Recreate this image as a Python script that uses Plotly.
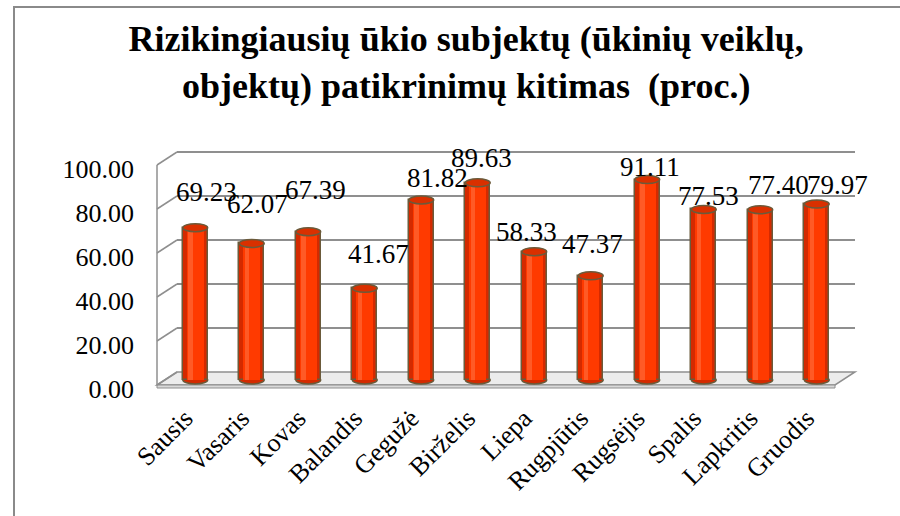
import plotly.graph_objects as go

# ---------------- data ----------------
months = ["Sausis", "Vasaris", "Kovas", "Balandis", "Gegužė", "Birželis",
          "Liepa", "Rugpjūtis", "Rugsėjis", "Spalis", "Lapkritis", "Gruodis"]
values = [69.23, 62.07, 67.39, 41.67, 81.82, 89.63,
          58.33, 47.37, 91.11, 77.53, 77.40, 79.97]
y_ticks = [0, 20, 40, 60, 80, 100]
title_text = "Rizikingiausių ūkio subjektų (ūkinių veiklų,<br>objektų) patikrinimų kitimas  (proc.)"

# ---------------- styling / layout constants ----------------
FONT = "Liberation Serif"
W, H = 900, 516
L, R, T, B = 167, 845, 150, 390           # plot area in pixels
PW, PH = R - L, B - T
BAR_ZERO, BAR_UNIT = 380, 2.2             # bar scale (pixel of 0, pixels per unit)
BACK_SHIFT, FRONT_SHIFT = 8, -5           # back wall / front edge pixel shift vs bar scale
LEFT_FRONT_X, LEFT_BACK_X = 157, 177
RIGHT_FRONT_X, RIGHT_BACK_X = 835, 855
BAR_W = 0.44
# label pixel offsets (dx, dy) from bar top, as placed in the original
LABEL_OFFSETS = [(11, 36), (6, 39), (7, 42), (14, 34), (16, 22), (4, 25),
                 (-8, 20), (2, 32), (3, 13), (5, 13), (18, 25), (21, 19)]

GRID = "#8f8f8f"
EDGE = "#6b5a3a"


def px_x(px):
    return (px - L) / PW


def px_y(py):
    return (B - py) / PH


fig = go.Figure()

# cylinder body (outer darker edge, inner bright core, small highlight)
fig.add_trace(go.Bar(x=months, y=values, width=BAR_W,
                     marker=dict(color="#d42a00", line=dict(color=EDGE, width=1.5)),
                     hoverinfo="skip", showlegend=False))
fig.add_trace(go.Bar(x=months, y=values, width=0.30,
                     marker=dict(color="#ff3a00", line=dict(width=0)),
                     hoverinfo="skip", showlegend=False))
fig.add_trace(go.Bar(x=months, y=values, width=0.08, offset=-0.12,
                     marker=dict(color="#ff5a26", line=dict(width=0)),
                     hoverinfo="skip", showlegend=False))

shapes = []
# outer chart border (extends beyond the image on right/bottom)
shapes.append(dict(type="rect", xref="paper", yref="paper",
                   x0=px_x(14), x1=px_x(930), y0=px_y(7), y1=px_y(560),
                   line=dict(color="#8a8a8a", width=2), fillcolor="rgba(0,0,0,0)",
                   layer="below"))
# floor
fy_front, fy_back = px_y(BAR_ZERO - FRONT_SHIFT), px_y(BAR_ZERO - BACK_SHIFT)
shapes.append(dict(type="path", xref="paper", yref="paper",
                   path=(f"M {px_x(LEFT_FRONT_X)},{fy_front} L {px_x(RIGHT_FRONT_X)},{fy_front} "
                         f"L {px_x(RIGHT_BACK_X)},{fy_back} L {px_x(LEFT_BACK_X)},{fy_back} Z"),
                   fillcolor="#ececec", line=dict(color=GRID, width=1.5), layer="below"))
# front floor edge thickness
shapes.append(dict(type="rect", xref="paper", yref="paper",
                   x0=px_x(LEFT_FRONT_X), x1=px_x(RIGHT_FRONT_X),
                   y0=px_y(BAR_ZERO - FRONT_SHIFT + 3), y1=fy_front,
                   fillcolor="#d9d9d9", line=dict(color=GRID, width=1), layer="below"))
# left wall front edge
shapes.append(dict(type="line", xref="paper", yref="y",
                   x0=px_x(LEFT_FRONT_X), x1=px_x(LEFT_FRONT_X),
                   y0=FRONT_SHIFT / BAR_UNIT, y1=y_ticks[-1] + FRONT_SHIFT / BAR_UNIT,
                   line=dict(color=GRID, width=1.5), layer="below"))
for v in y_ticks:
    # back wall gridline
    if v > 0:
        shapes.append(dict(type="line", xref="paper", yref="y", ysizemode="pixel", yanchor=v,
                           x0=px_x(LEFT_BACK_X), x1=px_x(RIGHT_BACK_X), y0=BACK_SHIFT, y1=BACK_SHIFT,
                           line=dict(color=GRID, width=1.8), layer="below"))
    # left wall diagonal
    shapes.append(dict(type="line", xref="paper", yref="y", ysizemode="pixel", yanchor=v,
                       x0=px_x(LEFT_FRONT_X), x1=px_x(LEFT_BACK_X), y0=FRONT_SHIFT, y1=BACK_SHIFT,
                       line=dict(color=GRID, width=1.5), layer="below"))

half = BAR_W / 2
for i, v in enumerate(values):
    # bottom ellipse
    shapes.append(dict(type="circle", xref="x", yref="y", ysizemode="pixel", yanchor=0,
                       x0=i - half, x1=i + half, y0=-4, y1=4,
                       fillcolor="#d42a00", line=dict(color=EDGE, width=1.5), layer="below"))
    # top ellipse
    shapes.append(dict(type="circle", xref="x", yref="y", ysizemode="pixel", yanchor=v,
                       x0=i - half, x1=i + half, y0=-4, y1=4,
                       fillcolor="#d93000", line=dict(color=EDGE, width=1.5), layer="above"))

annotations = []
for i, (m, v) in enumerate(zip(months, values)):
    dx, dy = LABEL_OFFSETS[i]
    annotations.append(dict(x=i, y=v, xref="x", yref="y", text=f"{v:.2f}",
                            showarrow=False, xshift=dx, yshift=dy,
                            font=dict(family=FONT, size=27, color="#000000")))

fig.update_layout(
    width=W, height=H,
    margin=dict(l=L, r=W - R, t=T, b=H - B, pad=0),
    paper_bgcolor="#ffffff", plot_bgcolor="rgba(0,0,0,0)",
    barmode="overlay", bargap=0,
    showlegend=False,
    title=dict(text=title_text, x=0.518, xanchor="center", y=1 - 51 / H, yanchor="middle",
               font=dict(family=FONT, size=36, color="#000000", weight="bold")),
    xaxis=dict(type="category", range=[-0.5, len(months) - 0.5], tickangle=-45,
               showgrid=False, zeroline=False, showline=False, ticks="",
               ticklabelstandoff=7, ticklabelshift=-10,
               tickfont=dict(family=FONT, size=26, color="#000000")),
    yaxis=dict(range=[-(B - BAR_ZERO) / BAR_UNIT, (BAR_ZERO - T) / BAR_UNIT],
               tickvals=y_ticks, ticktext=[f"{t:.2f}" for t in y_ticks],
               showgrid=False, zeroline=False, showline=False, ticks="",
               ticklabelstandoff=L - 135, ticklabelshift=9,
               tickfont=dict(family=FONT, size=26, color="#000000")),
    shapes=shapes,
    annotations=annotations,
)

fig.write_html("out.html", config={"displayModeBar": False},
               post_script="document.body.style.margin='0px';")
